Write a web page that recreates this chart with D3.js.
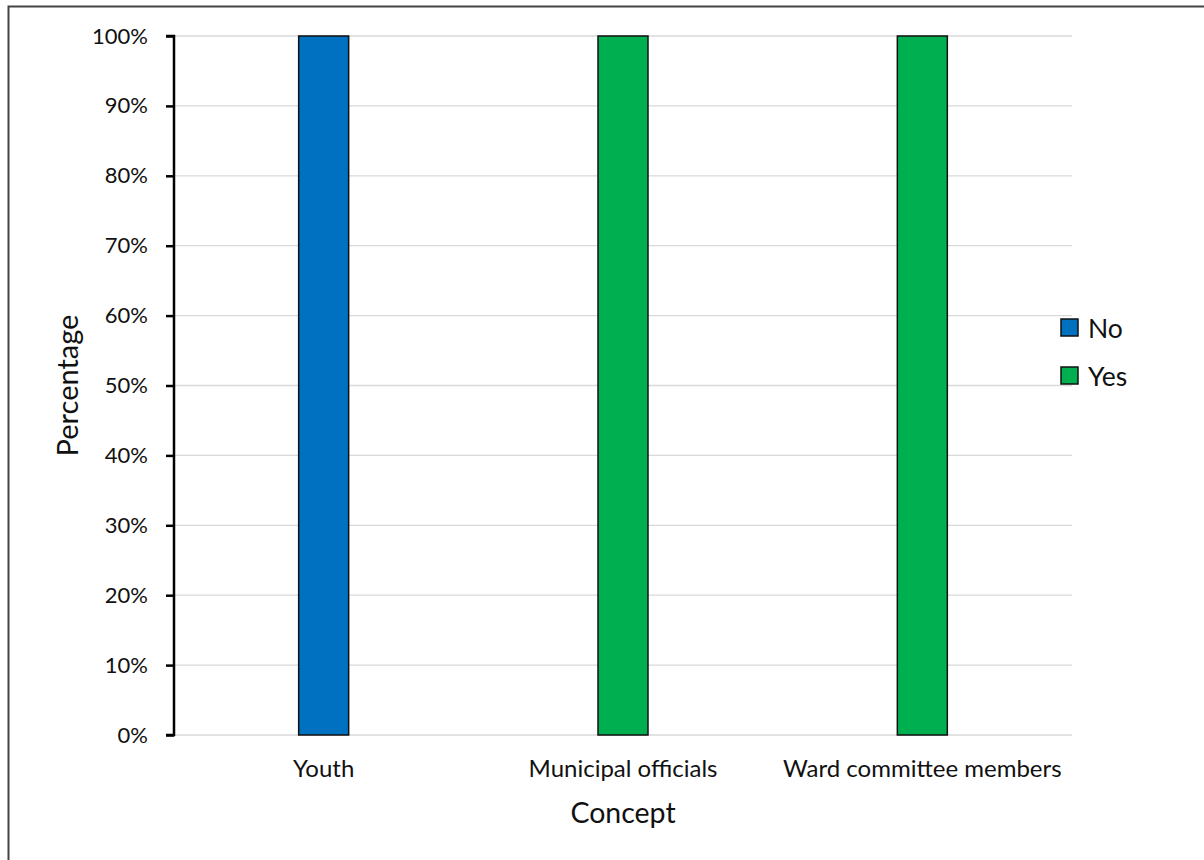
<!DOCTYPE html>
<html>
<head>
<meta charset="utf-8">
<script src="https://cdn.jsdelivr.net/npm/d3@7"></script>
<style>
  html, body { margin: 0; padding: 0; background: #fff; }
  svg { display: block; font-family: Lato, "Open Sans", sans-serif; }
</style>
</head>
<body>
<svg id="chart" width="1204" height="860"></svg>
<script>
// Categories and stacked series values (share of respondents, 0..1)
const categories = ["Youth", "Municipal officials", "Ward committee members"];
const seriesNames = ["No", "Yes"];
const noValues  = [1.0, 0.0, 0.0];
const yesValues = [0.0, 1.0, 1.0];
const yTicks = [0, 0.1, 0.2, 0.3, 0.4, 0.5, 0.6, 0.7, 0.8, 0.9, 1.0];
const seriesColors = ["#0070C0", "#00B050"];

const rows = categories.map((c, i) => ({ category: c, No: noValues[i], Yes: yesValues[i] }));

const svg = d3.select("#chart");
const margin = { left: 174, right: 132, top: 36, bottom: 125 };
const W = 1204, H = 860;
const plotW = W - margin.left - margin.right;
const plotH = H - margin.top - margin.bottom;

// Outer frame
svg.append("rect")
  .attr("x", 8.5).attr("y", 6.5)
  .attr("width", 1210).attr("height", 870)
  .attr("fill", "none").attr("stroke", "#444").attr("stroke-width", 2);

const g = svg.append("g").attr("transform", `translate(${margin.left},${margin.top})`);

const x = d3.scaleBand().domain(categories).range([0, plotW]).paddingInner(0).paddingOuter(0);
const y = d3.scaleLinear().domain([0, 1]).range([plotH, 0]);

// Gridlines
g.append("g").selectAll("line").data(yTicks).join("line")
  .attr("x1", 0).attr("x2", plotW)
  .attr("y1", d => y(d)).attr("y2", d => y(d))
  .attr("stroke", "#d9d9d9").attr("stroke-width", 1.3);

// Stacked bars
const stack = d3.stack().keys(seriesNames)(rows);
const barW = x.bandwidth() * 0.167;
g.append("g").selectAll("g").data(stack).join("g")
  .attr("fill", (d, i) => seriesColors[i])
  .selectAll("rect").data(d => d.filter(p => p[1] - p[0] > 0)).join("rect")
  .attr("x", d => x(d.data.category) + x.bandwidth() / 2 - barW / 2)
  .attr("y", d => y(d[1]))
  .attr("width", barW)
  .attr("height", d => y(d[0]) - y(d[1]))
  .attr("stroke", "#111").attr("stroke-width", 1.5);

// Y axis
const yAxis = g.append("g")
  .call(d3.axisLeft(y).tickValues(yTicks).tickFormat(d3.format(".0%")).tickSize(8).tickPadding(18));
yAxis.select(".domain").attr("stroke", "#000").attr("stroke-width", 2.5).attr("d", `M-8,${plotH}H0V0H-8`);
yAxis.selectAll(".tick line").attr("stroke", "#000").attr("stroke-width", 2.5);
yAxis.selectAll(".tick text").attr("font-size", 22).attr("fill", "#111").attr("font-family", "Lato, sans-serif");

// X axis labels (no axis line)
const xAxis = g.append("g").attr("transform", `translate(0,${plotH})`)
  .call(d3.axisBottom(x).tickSize(0).tickPadding(25));
xAxis.select(".domain").remove();
xAxis.selectAll(".tick text").attr("font-size", 24).attr("fill", "#111").attr("font-family", "Lato, sans-serif");

// Axis titles
svg.append("text")
  .attr("x", margin.left + plotW / 2).attr("y", 823)
  .attr("text-anchor", "middle").attr("font-size", 28.5).attr("fill", "#111")
  .text("Concept");
svg.append("text")
  .attr("transform", `translate(78,${margin.top + plotH / 2}) rotate(-90)`)
  .attr("text-anchor", "middle").attr("font-size", 29).attr("fill", "#111")
  .text("Percentage");

// Legend
const legend = svg.append("g").attr("transform", "translate(1061,319)");
const items = legend.selectAll("g").data(seriesNames).join("g")
  .attr("transform", (d, i) => `translate(0,${i * 48})`);
items.append("rect").attr("width", 17).attr("height", 17)
  .attr("fill", (d, i) => seriesColors[i]).attr("stroke", "#111").attr("stroke-width", 1.5);
items.append("text").attr("x", 27).attr("y", 9).attr("dy", "0.36em")
  .attr("font-size", 26.5).attr("fill", "#111").text(d => d);
</script>
</body>
</html>
